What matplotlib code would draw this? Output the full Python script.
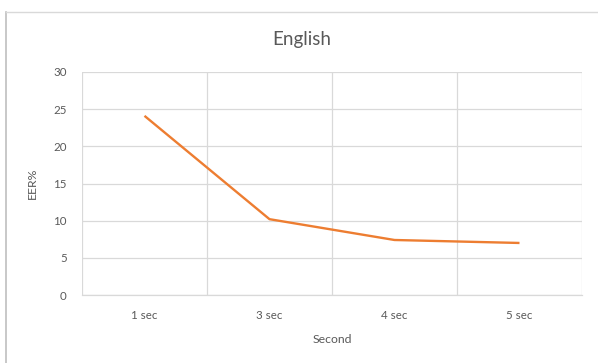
import matplotlib
matplotlib.use("Agg")
import matplotlib.pyplot as plt
from matplotlib.lines import Line2D

plt.rcParams['font.family'] = ['Lato', 'DejaVu Sans']

durations = ["1 sec", "3 sec", "4 sec", "5 sec"]
eer = [24.1, 10.2, 7.4, 7.0]
y_ticks = [0, 5, 10, 15, 20, 25, 30]

text_col = "#595959"
grid_col = "#d9d9d9"

fig = plt.figure(figsize=(5.98, 3.63), dpi=100)
ax = fig.add_axes([82 / 598, 1 - 295 / 363, 500 / 598, 223 / 363])

x = list(range(len(durations)))
ax.plot(x, eer, color="#ED7D31", linewidth=1.7, solid_capstyle="butt", zorder=3)

ax.set_xlim(-0.5, len(durations) - 0.5)
ax.set_ylim(0, 30)
ax.set_yticks(y_ticks)
ax.set_xticks(x)
ax.set_xticklabels(durations)

# vertical grid sits between categories
ax.set_xticks([i + 0.5 for i in range(-1, len(durations))], minor=True)
ax.grid(True, which="minor", axis="x", color=grid_col, linewidth=0.9)
ax.grid(True, which="major", axis="y", color=grid_col, linewidth=0.9)
ax.set_axisbelow(True)

for side in ["top", "right", "left"]:
    ax.spines[side].set_visible(False)
ax.spines["bottom"].set_color(grid_col)
ax.spines["bottom"].set_linewidth(0.9)

ax.tick_params(axis="both", which="both", length=0, colors=text_col, labelsize=8.3)
ax.tick_params(axis="x", pad=11)
ax.tick_params(axis="y", pad=11)

# title is centred on the whole chart area, not the plot
fig.text(302 / 598, 1 - 40 / 363, "English", fontsize=13.5, color=text_col,
         ha="center", va="center")
ax.set_xlabel("Second", fontsize=8.8, color=text_col, labelpad=9)
ax.set_ylabel("EER%", fontsize=8.8, color=text_col, labelpad=11)

# chart area frame (left and top edges only)
fig.add_artist(Line2D([6 / 598, 6 / 598], [0, 1 - 12 / 363], transform=fig.transFigure,
                      color="#bfbfbf", linewidth=1.2))
fig.add_artist(Line2D([6 / 598, 1], [1 - 12 / 363, 1 - 12 / 363], transform=fig.transFigure,
                      color="#d9d9d9", linewidth=1.0))

fig.savefig("out.png", dpi=100)
